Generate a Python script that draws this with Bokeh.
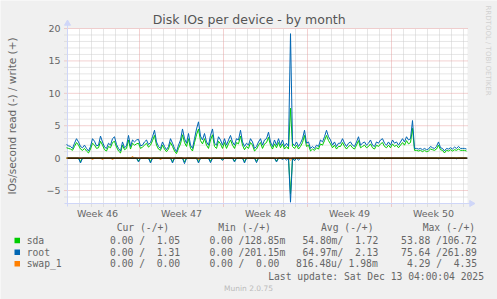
import re
import numpy as np
from bokeh.plotting import figure
from bokeh.models import Range1d, FixedTicker
from bokeh.core.properties import value
from bokeh.embed import file_html
from bokeh.resources import INLINE

# ---------------- data ----------------
# time axis: days since Monday 10 Nov 2025 00:00 (start of ISO week 46)
week_labels = ["Week 46", "Week 47", "Week 48", "Week 49", "Week 50"]
week_label_days = [3.5, 10.5, 17.5, 24.5, 31.5]
week_start_days = [7, 14, 21, 28]
sample_start_day = 11 / 12      # first 4-hour sample
sample_step_day = 1 / 6         # 4 hours

# writes per second (+)
root_write = [
    2.1, 1.9, 1.8, 1.5, 2.3, 3.0, 2.5, 1.8, 1.6, 2.0, 1.5, 1.1, 1.8, 3.0, 2.6, 1.9,
    2.0, 3.4, 2.5, 1.7, 1.5, 2.3, 2.0, 3.0, 3.3, 2.1,
    1.5, 1.1, 2.5, 1.6, 1.9, 3.5, 1.8, 2.8, 2.5, 2.8,
    2.9, 1.9, 2.0, 2.5, 2.8, 2.1, 2.4, 3.3, 4.3, 2.5,
    1.8, 1.5, 2.5, 1.8, 1.3, 1.8, 3.0, 2.3, 1.5, 1.0,
    2.0, 2.8, 4.5, 3.0, 2.3, 3.8, 2.0, 1.5, 3.0, 4.5,
    5.6, 3.4, 2.8, 3.8, 2.5, 2.0, 3.5, 4.5, 2.3, 2.0,
    3.3, 2.8, 2.0, 3.0, 2.0, 2.8, 3.5, 2.5, 2.0, 3.0,
    2.8, 4.3, 2.5, 1.8, 2.3, 2.0, 3.0, 2.5, 1.5, 1.8,
    2.5, 3.0, 2.0, 2.8,
    3.0, 4.0, 2.5, 1.8, 2.8, 2.0, 3.0, 2.0, 2.8, 1.8, 2.3, 1.8, 19.2, 2.3, 1.9, 2.5, 1.8, 2.3, 3.0, 4.3,
    2.3, 2.5, 1.5, 1.8, 1.5, 2.0, 1.8, 2.8, 2.5, 3.3, 4.3, 3.3, 2.8, 2.0, 2.5, 1.8, 2.3, 2.3, 3.0, 2.3,
    1.8, 2.3, 2.5, 2.0, 1.8, 2.5, 3.3, 2.0, 2.3, 2.5, 2.0, 2.3, 2.8, 2.0, 1.8, 2.5, 2.3, 2.8, 3.0, 2.3,
    2.0, 2.5, 2.0, 2.8, 2.3, 2.5, 2.0, 2.5, 3.0, 2.5, 3.3, 2.8, 3.0, 5.8, 1.5, 1.5, 1.4, 1.5, 1.3, 1.5,
    1.3, 1.4, 1.8, 1.6, 1.5, 1.8, 2.5, 1.6, 1.5, 1.1, 1.5, 1.4, 1.6, 1.4, 1.7, 1.5, 1.8, 1.5, 1.5, 1.5,
    1.4,
]
sda_write = [
    1.6, 1.5, 1.4, 1.2, 1.8, 2.4, 2.0, 1.4, 1.2, 1.5, 1.1, 0.8, 1.4, 2.3, 2.0, 1.5,
    1.6, 2.6, 2.0, 1.3, 1.1, 1.8, 1.6, 2.4, 2.6, 1.7,
    1.1, 0.8, 2.0, 1.3, 1.5, 2.8, 1.4, 2.3, 2.0, 2.2,
    2.3, 1.5, 1.7, 2.0, 2.3, 1.7, 2.0, 2.7, 3.5, 2.0,
    1.4, 1.2, 2.0, 1.4, 1.0, 1.4, 2.4, 1.8, 1.1, 0.7,
    1.5, 2.2, 3.6, 2.4, 1.8, 3.0, 1.5, 1.1, 2.4, 3.6,
    4.5, 2.7, 2.2, 3.0, 2.0, 1.5, 2.8, 3.6, 1.8, 1.5,
    2.6, 2.2, 1.5, 2.4, 1.5, 2.2, 2.8, 2.0, 1.5, 2.4,
    2.2, 3.4, 2.0, 1.3, 1.8, 1.5, 2.4, 2.0, 1.1, 1.4,
    2.0, 2.4, 1.5, 2.2,
    2.4, 3.2, 2.0, 1.4, 2.2, 1.6, 2.4, 1.6, 2.2, 1.4, 1.8, 1.4, 7.7, 1.8, 1.5, 2.0, 1.4, 1.8, 2.4, 3.5,
    1.8, 2.0, 1.1, 1.4, 1.2, 1.6, 1.4, 2.2, 2.0, 2.7, 3.5, 2.7, 2.2, 1.6, 2.0, 1.4, 1.8, 1.8, 2.4, 1.8,
    1.4, 1.8, 2.0, 1.6, 1.4, 2.0, 2.7, 1.6, 1.8, 2.0, 1.6, 1.8, 2.2, 1.6, 1.4, 2.0, 1.8, 2.2, 2.4, 1.8,
    1.6, 2.0, 1.6, 2.2, 1.8, 2.0, 1.6, 2.0, 2.4, 2.0, 2.7, 2.2, 2.4, 4.6, 1.2, 1.2, 1.1, 1.2, 1.0, 1.2,
    1.0, 1.1, 1.4, 1.3, 1.2, 1.4, 2.0, 1.3, 1.2, 0.8, 1.2, 1.1, 1.3, 1.1, 1.3, 1.2, 1.4, 1.2, 1.2, 1.2,
    1.1,
]
# reads per second (-), non-zero samples only (sample index -> value)
root_read = {7: 0.75, 36: 0.6, 42: 0.75, 53: 0.75, 59: 0.85, 66: 0.75, 72: 0.7, 78: 0.35,
             84: 0.6, 89: 0.75, 95: 0.7, 105: 0.6, 108: 0.2, 110: 0.3, 112: 6.8, 114: 0.4,
             116: 0.3, 159: 0.1, 186: 0.1, 195: 0.1}
sda_read = {7: 0.55, 36: 0.45, 42: 0.55, 53: 0.55, 59: 0.6, 66: 0.55, 72: 0.5, 78: 0.25,
            84: 0.45, 89: 0.55, 95: 0.5, 105: 0.45, 112: 5.5, 114: 0.3}
swap_read = {13: 0.2, 18: 0.2, 23: 0.2, 47: 0.2, 66: 0.2, 112: 0.3}
swap_write = {33: 0.25}

y_major = [-5, 0, 5, 10, 15, 20]
y_minor = [v for v in range(-6, 20) if v % 5 != 0]
day_lines = [d for d in range(2, 35) if d not in week_start_days]

legend_names = ["sda", "root", "swap_1"]
legend_colors = ["#00CC00", "#0066B3", "#FF8000"]
legend_cur = ["0.00 /  1.05", "0.00 /  1.31", "0.00 /  0.00"]
legend_min = ["0.00 /128.85m", "0.00 /201.15m", "0.00 /  0.00"]
legend_avg = ["54.80m/  1.72", "64.97m/  2.13", "816.48u/ 1.98m"]
legend_max = ["53.88 /106.72", "75.64 /261.89", "4.29 /  4.35"]
legend_headers = ["Cur (-/+)", "Min (-/+)", "Avg (-/+)", "Max (-/+)"]
last_update = "Last update: Sat Dec 13 04:00:04 2025"
title_text = "Disk IOs per device - by month"
ylabel_text = "IOs/second read (-) / write (+)"
watermark = "RRDTOOL / TOBI OETIKER"
footer = "Munin 2.0.75"

# ---------------- layout (canvas pixels -> data coords) ----------------
W, H = 497, 299
PL, PR, PT, PB = 67, 467, 28, 203          # graph area in canvas px
PX_DAY = 12.0
X0 = 1.0
Y0, Y1 = -7.0, 20.0
PX_UNIT = (PB - PT) / (Y1 - Y0)

def fx(px):
    return X0 + (px - PL) / PX_DAY

def fy(py):
    return Y1 - (py - PT) / PX_UNIT

n = len(root_write)
t = sample_start_day + sample_step_day * np.arange(n)

def full(d):
    a = np.zeros(n)
    for k, v in d.items():
        a[k] = v
    return a

def keep_spaces(s):
    return re.sub(r" {2,}", lambda m: "\u00a0" * len(m.group(0)), s)

TXT = "#666666"
BG = "#F0F0F0"
AX = "#CFD6F8"

p = figure(width=W, height=H, output_backend="svg", toolbar_location=None,
           x_range=Range1d(fx(0), fx(W)), y_range=Range1d(fy(H), fy(0)),
           min_border_left=0, min_border_right=0, min_border_top=0, min_border_bottom=0,
           title=None)
p.background_fill_color = BG
p.border_fill_color = BG
p.outline_line_color = None
p.grid.visible = False

# axes drawn at the graph edges
p.xaxis.fixed_location = Y0
p.yaxis.fixed_location = X0
p.xaxis.bounds = (X0, fx(PR))
p.yaxis.bounds = (Y0, Y1)
p.xaxis.ticker = FixedTicker(ticks=week_label_days)
p.xaxis.major_label_overrides = {d: l for d, l in zip(week_label_days, week_labels)}
p.yaxis.ticker = FixedTicker(ticks=y_major)
for ax in (p.xaxis[0], p.yaxis[0]):
    ax.axis_line_color = None
    ax.major_tick_line_color = None
    ax.minor_tick_line_color = None
    ax.major_tick_out = 0
    ax.minor_tick_out = 0
    ax.major_tick_in = 0
    ax.minor_tick_in = 0
    ax.major_label_text_font = "DejaVu Sans"
    ax.major_label_text_font_size = "9.5px"
    ax.major_label_text_color = TXT
p.xaxis.major_label_standoff = 4
p.yaxis.major_label_standoff = 7
p.yaxis.axis_label = ylabel_text
p.yaxis.axis_label_text_font = "DejaVu Sans"
p.yaxis.axis_label_text_font_size = "10.5px"
p.yaxis.axis_label_text_font_style = "normal"
p.yaxis.axis_label_text_color = TXT
p.yaxis.axis_label_standoff = 25

# white graph canvas
p.quad(left=[X0], right=[fx(PR)], bottom=[Y0], top=[Y1], fill_color="white", line_color=None)

# grid (dotted), with small ticks outside the graph
gx0, gx1 = fx(PL - 3), fx(PR + 1)
gy0, gy1 = fy(PB + 3), Y1
p.segment(x0=[gx0] * len(y_minor), x1=[gx1] * len(y_minor), y0=y_minor, y1=y_minor,
          line_color="#CDCDCD", line_dash="1 1", line_width=1)
p.segment(x0=day_lines, x1=day_lines, y0=[gy0] * len(day_lines), y1=[gy1] * len(day_lines),
          line_color="#CDCDCD", line_dash="1 1", line_width=1)
y_red = [v for v in y_major if v != 0]
p.segment(x0=[gx0] * len(y_red), x1=[gx1] * len(y_red), y0=y_red, y1=y_red,
          line_color="#E7A3A3", line_dash="1 1", line_width=1)
p.segment(x0=week_start_days, x1=week_start_days, y0=[gy0] * 4, y1=[gy1] * 4,
          line_color="#E7A3A3", line_dash="1 1", line_width=1)

# axis lines with arrows
p.line([X0, X0], [fy(PB + 3), fy(PT - 5)], line_color=AX, line_width=1)
p.line([fx(PL - 3), fx(PR + 4)], [Y0, Y0], line_color=AX, line_width=1)
p.scatter([fx(PR + 4)], [Y0], marker="triangle", angle=-np.pi / 2, size=6,
          fill_color=AX, line_color=AX)
p.scatter([X0], [fy(PT - 5)], marker="triangle", size=6, fill_color=AX, line_color=AX)

# data lines
lw = 1.0
p.line(t, -full(sda_read), line_color=legend_colors[0], line_width=lw)
p.line(t, sda_write, line_color=legend_colors[0], line_width=lw)
p.line(t, -full(root_read), line_color=legend_colors[1], line_width=lw)
p.line(t, root_write, line_color=legend_colors[1], line_width=lw)
p.line(t, -full(swap_read), line_color=legend_colors[2], line_width=lw)
p.line(t, full(swap_write), line_color=legend_colors[2], line_width=lw)
p.line([X0, fx(PR)], [0, 0], line_color="black", line_width=1.2)

# title & watermark
p.text(x=[fx(248.7)], y=[fy(19.3)], text=[title_text], text_align="center",
       text_baseline="middle", text_font=value("DejaVu Sans"), text_font_size="12.5px",
       text_color="#555555")
p.text(x=[fx(487.7)], y=[fy(5)], text=[watermark], angle=-np.pi / 2, text_align="left",
       text_baseline="middle", text_font=value("DejaVu Sans"), text_font_size="7px",
       text_color="#D0D0D0")

# legend
MONO = value("DejaVu Sans Mono")
LFS = "9.7px"
row_py = [240.0, 251.7, 263.3]
header_px = [116.2, 217.8, 320.5, 422.2]

def txt(pxs, pys, ss, align="left", color=TXT, font=MONO, size=LFS):
    p.text(x=[fx(v) for v in pxs], y=[fy(v) for v in pys], text=[keep_spaces(s) for s in ss],
           text_align=align, text_baseline="middle", text_font=font, text_font_size=size,
           text_color=color)

txt(header_px, [227.3] * 4, legend_headers)
p.quad(left=[fx(14)] * 3, right=[fx(19.5)] * 3,
       top=[fy(v - 2.75) for v in row_py], bottom=[fy(v + 2.75) for v in row_py],
       fill_color=legend_colors, line_color=None)
txt([26.2] * 3, row_py, legend_names)
txt([109.6] * 3, row_py, legend_cur)
txt([208.9] * 3, row_py, legend_min)
txt([301.9, 301.9, 295.6], row_py, legend_avg)
txt([400.6, 400.6, 406.5], row_py, legend_max)
txt([483.5], [275.7], [last_update], align="right")
txt([248.0], [287.7], [footer], align="center", color="#BBBBBB",
    font=value("DejaVu Sans"), size="7.5px")

open("out.html", "w").write(file_html(p, INLINE))
